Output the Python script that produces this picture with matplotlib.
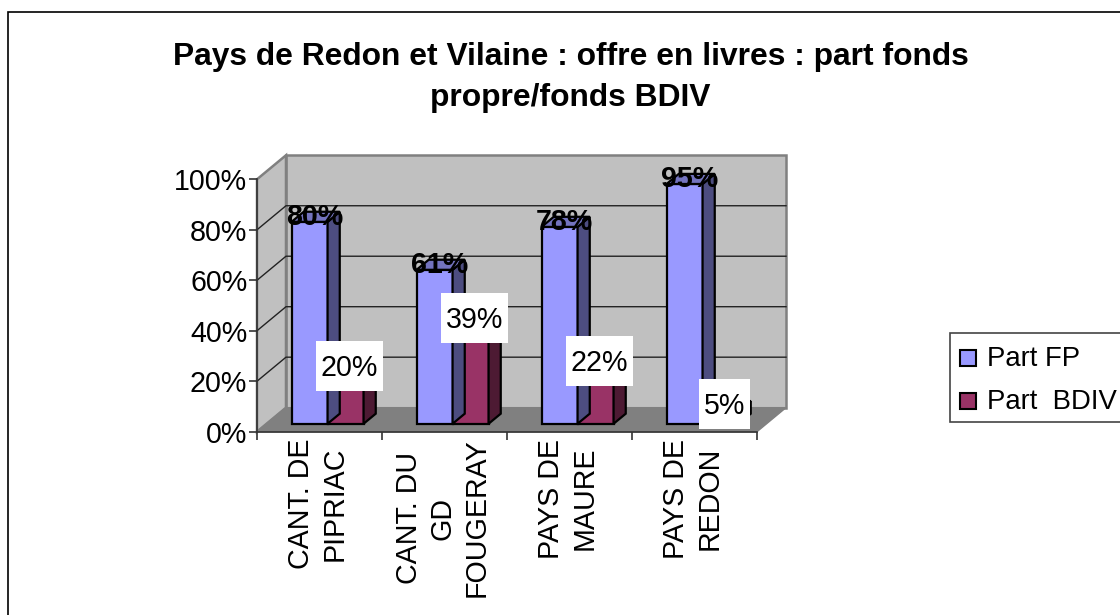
import matplotlib
matplotlib.use("Agg")
import matplotlib.pyplot as plt
from matplotlib.patches import Polygon, Rectangle
from matplotlib.path import Path

plt.rcParams["font.family"] = ["Liberation Sans", "DejaVu Sans"]

categories = ["CANT. DE\nPIPRIAC", "CANT. DU\nGD\nFOUGERAY", "PAYS DE\nMAURE", "PAYS DE\nREDON"]
part_fp = [80, 61, 78, 95]
part_bdiv = [20, 39, 22, 5]
yticks = [0, 20, 40, 60, 80, 100]
series_names = ["Part FP", "Part  BDIV"]

W, H = 1120, 615
# one unit of depth goes back this far in data units
DX = 29 / 125
DY = 24 / 2.52


def proj(x, y, d):
    return (x + d * DX, y + d * DY)


def box(ax, x0, x1, h, d0, d1, front, side, top, z):
    ax.add_patch(Polygon([proj(x0, 0, d0), proj(x1, 0, d0), proj(x1, h, d0), proj(x0, h, d0)],
                         fc=front, ec="k", lw=1.6, zorder=z, clip_on=False))
    ax.add_patch(Polygon([proj(x1, 0, d0), proj(x1, 0, d1), proj(x1, h, d1), proj(x1, h, d0)],
                         fc=side, ec="k", lw=1.6, zorder=z, clip_on=False))
    ax.add_patch(Polygon([proj(x0, h, d0), proj(x1, h, d0), proj(x1, h, d1), proj(x0, h, d1)],
                         fc=top, ec="k", lw=1.6, zorder=z, clip_on=False))


def label_box(x0, y0, width, height, mutation_size):
    # white label box: fixed height, small side padding
    yc = y0 + height / 2 + 2
    left, right = x0 - 4.5, x0 + width + 4.5
    bot, top = yc - 25, yc + 25
    return Path([(left, bot), (right, bot), (right, top), (left, top), (left, bot)], closed=True)


fig = plt.figure(figsize=(W / 100, H / 100), dpi=100, facecolor="white")

# chart frame, runs off the right and bottom of the picture
fig.add_artist(Rectangle((8 / W, -0.02), 1.1, 1 - 12 / H + 0.02, transform=fig.transFigure,
                         fc="white", ec="k", lw=1.2, zorder=-1))

ax = fig.add_axes([257 / W, 1 - 431.7 / H, 500 / W, 252.4 / H])
ax.set_xlim(0, 4)
ax.set_ylim(0, 100)
ax.patch.set_visible(False)

# walls and floor
ax.add_patch(Polygon([proj(0, 0, 1), proj(4, 0, 1), proj(4, 100, 1), proj(0, 100, 1)],
                     fc="#c0c0c0", ec="#808080", lw=1.8, zorder=1, clip_on=False))
ax.add_patch(Polygon([proj(0, 0, 0), proj(0, 0, 1), proj(0, 100, 1), proj(0, 100, 0)],
                     fc="#c0c0c0", ec="#808080", lw=1.8, zorder=1, clip_on=False))
ax.add_patch(Polygon([proj(0, 0, 0), proj(4, 0, 0), proj(4, 0, 1), proj(0, 0, 1)],
                     fc="#808080", ec="#808080", lw=1, zorder=1, clip_on=False))
for t in yticks[1:-1]:
    ax.plot(*zip(proj(0, t, 0), proj(0, t, 1), proj(4, t, 1)), color="#222222", lw=1, zorder=2, clip_on=False)

bar_w = 36 / 125
for i in range(len(categories)):
    x0 = i + 25 / 125
    box(ax, x0 + bar_w, x0 + 2 * bar_w, part_bdiv[i], 0.33, 0.75, "#993366", "#4d1a33", "#732650", 3)
    box(ax, x0, x0 + bar_w, part_fp[i], 0.33, 0.75, "#9999ff", "#4d4d80", "#7373bf", 4)

    ax.annotate(f"{part_fp[i]}%", proj(x0 + bar_w * 0.64, part_fp[i], 0.33), xytext=(0, 5),
                textcoords="offset pixels", ha="center", va="center", fontsize=20.6, fontweight="bold",
                zorder=6, annotation_clip=False)
    ax.annotate(f"{part_bdiv[i]}%", proj(x0 + bar_w * 1.5, part_bdiv[i], 0.33), xytext=(4, 5.5),
                textcoords="offset pixels", ha="center", va="center", fontsize=20.6, zorder=7,
                annotation_clip=False,
                bbox=dict(fc="white", ec="none", boxstyle=label_box))

for s in ["top", "right"]:
    ax.spines[s].set_visible(False)
for s in ["left", "bottom"]:
    ax.spines[s].set_color("#333333")
    ax.spines[s].set_linewidth(1.2)
    ax.spines[s].set_zorder(5)

ax.set_yticks(yticks)
ax.set_yticklabels([f"{t}%" for t in yticks], fontsize=20.6)
ax.set_xticks(range(len(categories) + 1))
ax.set_xticklabels([])
ax.tick_params(axis="both", length=6, width=1.2, color="#333333", pad=1)

for i, name in enumerate(categories):
    ax.annotate(name, (i + 0.5, 0), xytext=(-1.5, -5), textcoords="offset points", rotation=90,
                ha="center", va="top", multialignment="center", fontsize=20.6, linespacing=1.26,
                annotation_clip=False)

fig.text(570.5 / W, 1 - 77.5 / H, "Pays de Redon et Vilaine : offre en livres : part fonds\npropre/fonds BDIV",
         ha="center", va="center", fontsize=22.85, fontweight="bold", linespacing=1.5)

# legend, its box also runs off the right side
fig.add_artist(Rectangle((950 / W, 1 - 422 / H), 0.3, 89 / H, transform=fig.transFigure,
                         fc="white", ec="#444444", lw=1.2))
leg_y = [358, 401]
for y, name, col in zip(leg_y, series_names, ["#9999ff", "#993366"]):
    fig.add_artist(Rectangle((960 / W, 1 - (y + 8) / H), 16 / W, 16 / H, transform=fig.transFigure,
                             fc=col, ec="k", lw=1.5))
    fig.text(987 / W, 1 - (y + 1) / H, name, ha="left", va="center", fontsize=19.8)

fig.savefig("out.png", dpi=100)
